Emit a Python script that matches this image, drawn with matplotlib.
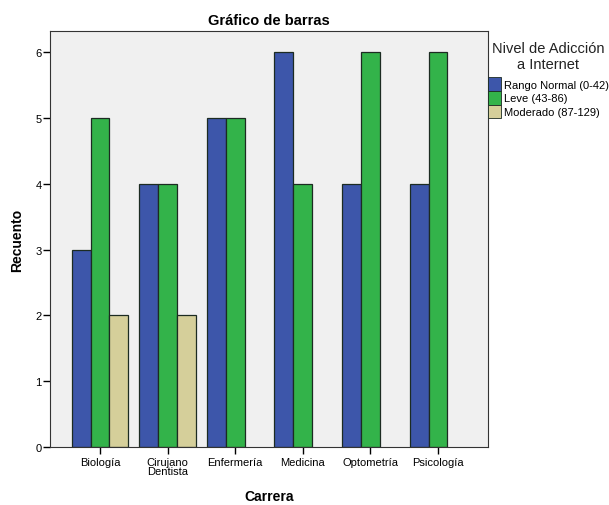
import numpy as np
import matplotlib
matplotlib.use('agg')
import matplotlib.pyplot as plt

plt.rcParams['font.family'] = ['Liberation Sans', 'DejaVu Sans']

carreras = ["Biología", "Cirujano\nDentista", "Enfermería", "Medicina", "Optometría", "Psicología"]
niveles = ["Rango Normal (0-42)", "Leve (43-86)", "Moderado (87-129)"]
normal = [3, 4, 5, 6, 4, 4]
leve = [5, 4, 5, 4, 6, 6]
moderado = [2, 2, 0, 0, 0, 0]
colores = ["#3d56aa", "#33b34a", "#d5cf9a"]


def main():
    fig = plt.figure(figsize=(6.09, 5.06), dpi=100)
    ax = fig.add_axes([50 / 609, 1 - 448 / 506, 438 / 609, 416 / 506])
    ax.set_facecolor("#f0f0f0")

    x = np.arange(len(carreras))
    w = 0.28
    for i, (vals, col, lab) in enumerate(zip([normal, leve, moderado], colores, niveles)):
        vals = np.array(vals, dtype=float)
        bars = ax.bar(x + (i - 1) * w, vals, width=w, color=col, edgecolor="#1c2b22",
                      linewidth=0.9, label=lab)
        # SPSS leaves an empty slot for zero counts
        for b, v in zip(bars, vals):
            if v == 0:
                b.set_visible(False)

    ax.set_xlim(-0.74, 5.74)
    ax.set_ylim(0, 6.32)
    ax.set_xticks(x)
    ax.set_xticklabels(carreras, fontsize=8, linespacing=0.85)
    ax.set_yticks(range(7))
    ax.tick_params(axis='y', labelsize=8, length=5, width=1, pad=1)
    ax.tick_params(axis='x', length=5, width=1, pad=2)
    for s in ax.spines.values():
        s.set_color("#333333")
    ax.set_ylabel("Recuento", fontsize=10, fontweight='bold', labelpad=8)
    ax.set_xlabel("Carrera", fontsize=10, fontweight='bold', labelpad=10)
    ax.set_title("Gráfico de barras", fontsize=10.5, fontweight='bold', pad=5)

    leg = ax.legend(title="Nivel de Adicción\na Internet", loc='upper left',
                    bbox_to_anchor=(1.0, 0.975), frameon=False, fontsize=8,
                    title_fontsize=10.5, handlelength=1.2, handleheight=1.5,
                    handletextpad=0.2, labelspacing=0.0, borderaxespad=0.0,
                    borderpad=0.0)
    leg._legend_box.align = "center"
    leg._legend_box.sep = 5
    leg.get_title().set_multialignment('center')
    leg.get_title().set_linespacing(1.1)
    leg.get_title().set_color("#222222")
    for h in leg.legend_handles:
        h.set_linewidth(0.6)
        h.set_visible(True)

    plt.savefig("out.png", dpi=100)


if "__main__" == __name__:
    main()
